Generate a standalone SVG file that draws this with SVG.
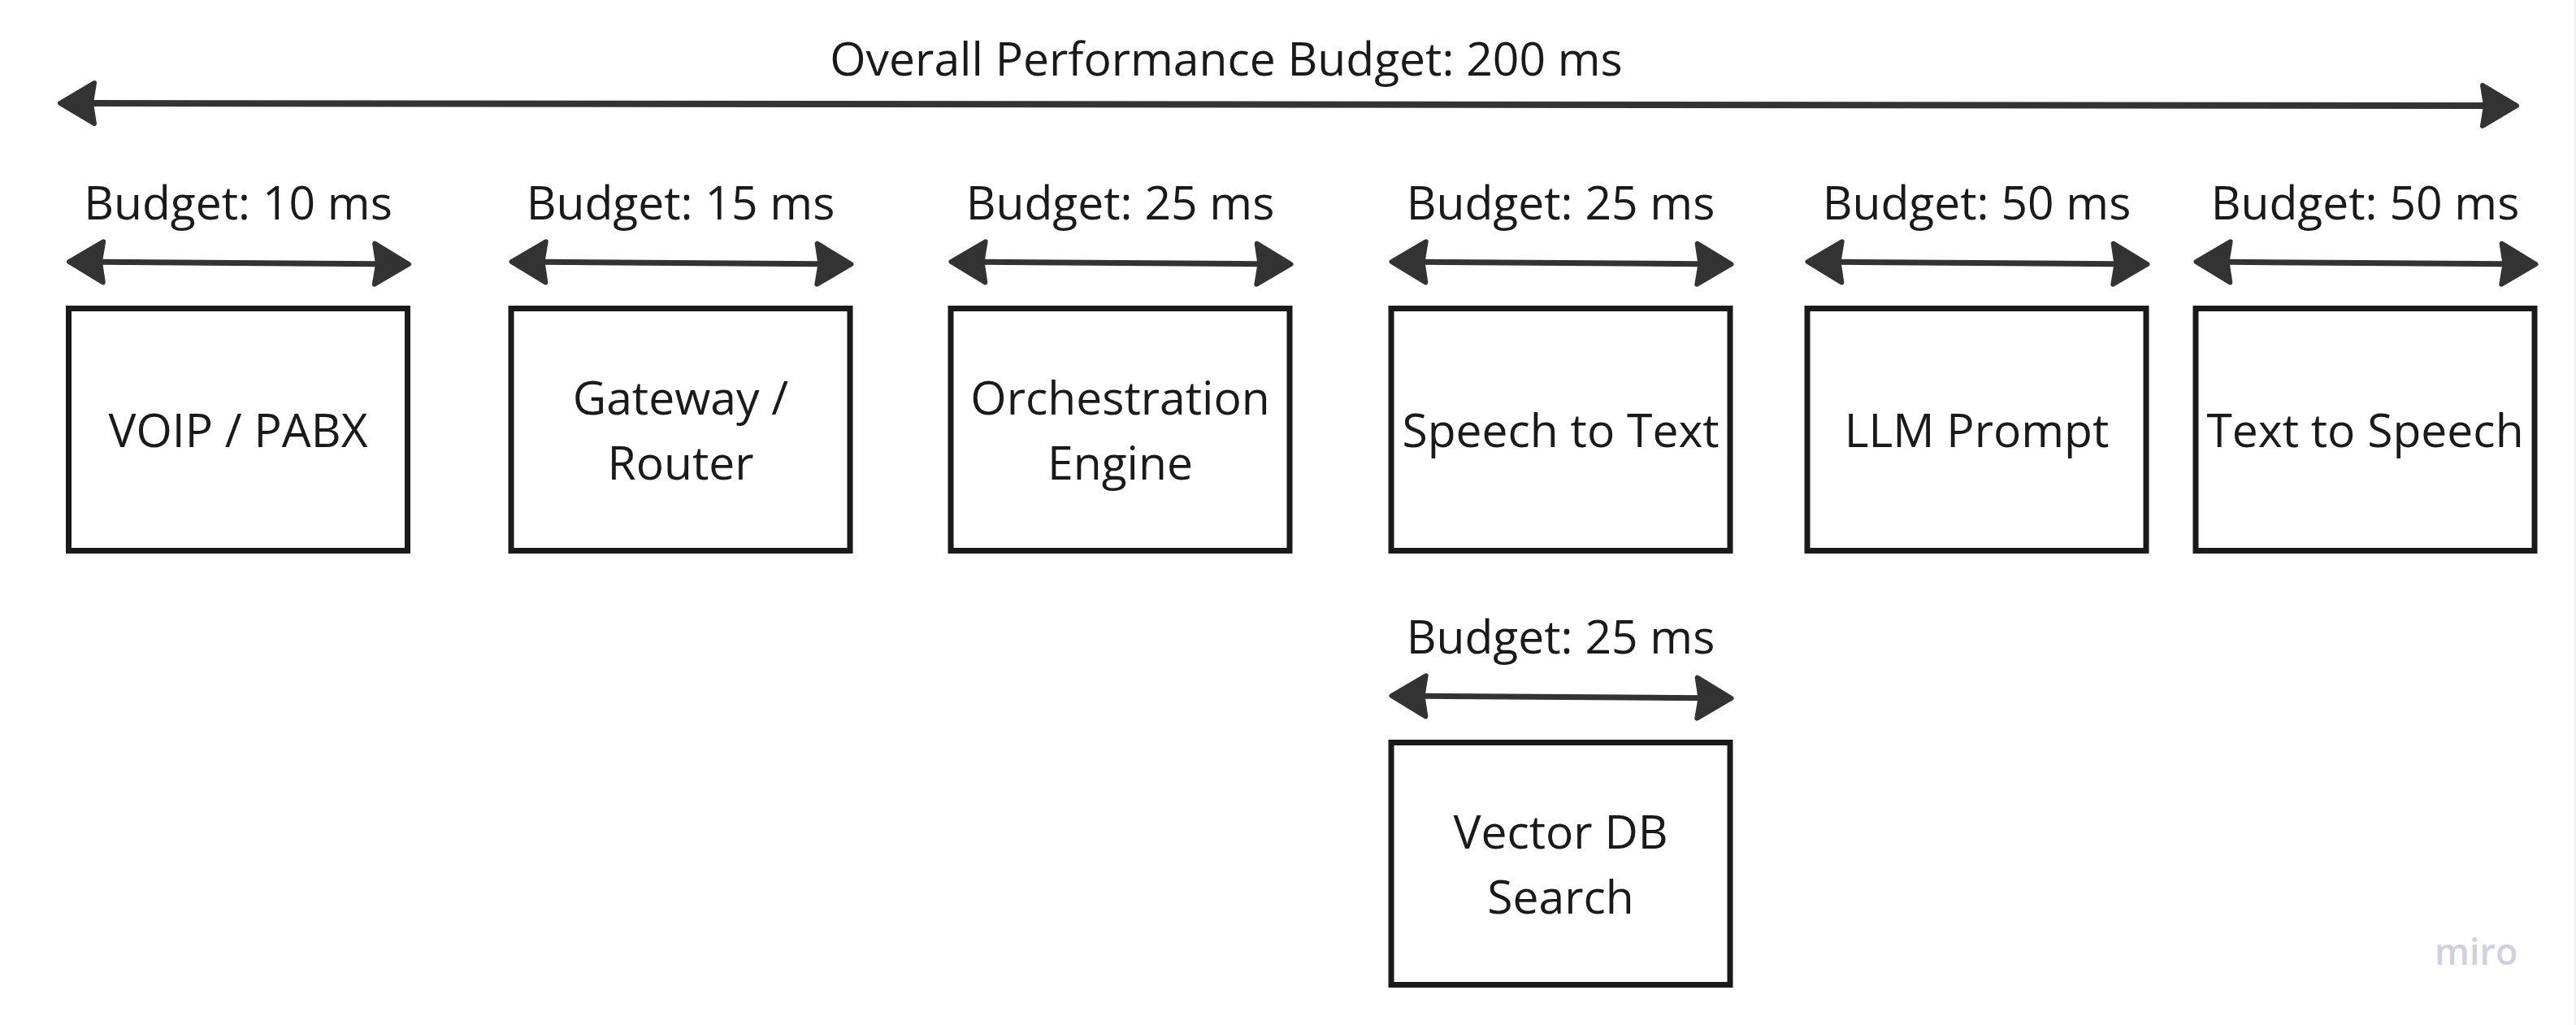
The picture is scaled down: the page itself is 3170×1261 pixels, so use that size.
<svg xmlns="http://www.w3.org/2000/svg" width="3170" height="1261" viewBox="0 0 3170 1261">
<style>
  .box { fill: #ffffff; stroke: #1a1a1a; stroke-width: 7; }
  .lbl { font-family: "Open Sans", "Liberation Sans", sans-serif; font-size: 57px; fill: #1a1a1a; text-anchor: middle; }
  .conn { stroke: #333333; stroke-width: 7; fill: none; marker-start: url(#ah); marker-end: url(#ah); }
  .big { stroke-width: 8; }
  .miro { font-family: "Open Sans", "Liberation Sans", sans-serif; font-size: 45px; font-weight: 600; fill: #d0d0de; }
</style>
<defs>
  <marker id="ah" markerUnits="userSpaceOnUse" viewBox="-14 -34 60 68" markerWidth="60" markerHeight="68" refX="0" refY="0" orient="auto-start-reverse">
    <path d="M38,0 L-4,-25 L0,0 L-4,25 Z" fill="#333333" stroke="#333333" stroke-width="6" stroke-linejoin="round"/>
  </marker>
</defs>
<rect x="0" y="0" width="3170" height="1261" fill="#ffffff"/>
<line x1="3168.5" y1="0" x2="3168.5" y2="1261" stroke="#ececec" stroke-width="2"/>

<g id="connectors">
  <line class="conn big" x1="112" y1="127.04" x2="3059" y2="129.96"/>
  <line class="conn" x1="123" y1="322.3" x2="465" y2="324.7"/>
  <line class="conn" x1="667.5" y1="322.3" x2="1009.5" y2="324.7"/>
  <line class="conn" x1="1208.5" y1="322.3" x2="1550.5" y2="324.7"/>
  <line class="conn" x1="1750.5" y1="322.3" x2="2092.5" y2="324.7"/>
  <line class="conn" x1="2262.5" y1="322.3" x2="2604.5" y2="324.7"/>
  <line class="conn" x1="2740.5" y1="322.3" x2="3082.5" y2="324.7"/>
  <line class="conn" x1="1750.5" y1="856.3" x2="2092.5" y2="858.7"/>
</g>

<g id="labels">
  <text class="lbl" x="1509" y="93">Overall Performance Budget: 200 ms</text>
  <text class="lbl" x="293" y="270">Budget: 10 ms</text>
  <text class="lbl" x="837.5" y="270">Budget: 15 ms</text>
  <text class="lbl" x="1378.5" y="270">Budget: 25 ms</text>
  <text class="lbl" x="1920.5" y="270">Budget: 25 ms</text>
  <text class="lbl" x="2432.5" y="270">Budget: 50 ms</text>
  <text class="lbl" x="2910.5" y="270">Budget: 50 ms</text>
  <text class="lbl" x="1920.5" y="804">Budget: 25 ms</text>
</g>

<g id="voip">
  <rect class="box" x="84.5" y="379.5" width="417" height="298"/>
  <text class="lbl" x="293" y="550">VOIP / PABX</text>
</g>
<g id="gateway">
  <rect class="box" x="629" y="379.5" width="417" height="298"/>
  <text class="lbl" x="837.5" y="509.5">Gateway /</text>
  <text class="lbl" x="837.5" y="590">Router</text>
</g>
<g id="orchestration">
  <rect class="box" x="1170" y="379.5" width="417" height="298"/>
  <text class="lbl" x="1378.5" y="509.5">Orchestration</text>
  <text class="lbl" x="1378.5" y="590">Engine</text>
</g>
<g id="stt">
  <rect class="box" x="1712" y="379.5" width="417" height="298"/>
  <text class="lbl" x="1920.5" y="550">Speech to Text</text>
</g>
<g id="llm">
  <rect class="box" x="2224" y="379.5" width="417" height="298"/>
  <text class="lbl" x="2432.5" y="550">LLM Prompt</text>
</g>
<g id="tts">
  <rect class="box" x="2702" y="379.5" width="417" height="298"/>
  <text class="lbl" x="2910.5" y="550">Text to Speech</text>
</g>
<g id="vectordb">
  <rect class="box" x="1712" y="913.5" width="417" height="298"/>
  <text class="lbl" x="1920.5" y="1043.5">Vector DB</text>
  <text class="lbl" x="1920.5" y="1124">Search</text>
</g>

<text class="miro" x="2996" y="1187">miro</text>
</svg>
